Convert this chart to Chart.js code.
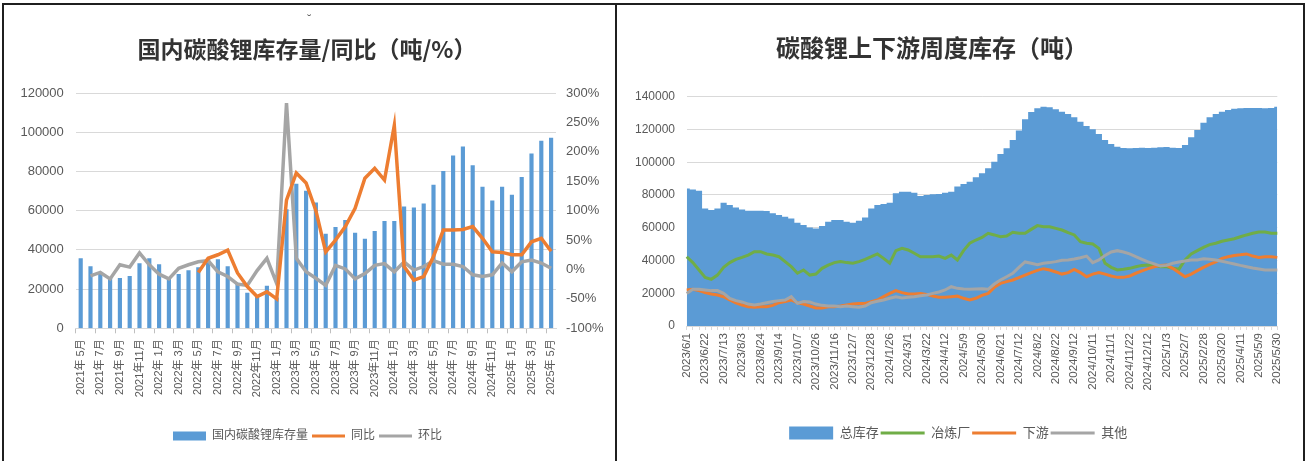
<!DOCTYPE html>
<html lang="zh">
<head>
<meta charset="utf-8">
<title>碳酸锂库存</title>
<script src="https://cdn.jsdelivr.net/npm/chart.js@4"></script>
<style>
  body { margin: 0; background: #fff; }
  #page { position: relative; width: 1307px; height: 461px; overflow: hidden; background: #fff; }
  canvas { position: absolute; top: 0; }
  .title { position: absolute; font-family: 'Noto Sans CJK SC', sans-serif; font-weight: 700;
           color: #333; white-space: nowrap; transform: translateX(-50%); line-height: 30px; }
  .rule { position: absolute; background: #1f1f1f; }
</style>
</head>
<body>
<div id="page">
  <canvas id="left-chart" width="615" height="461" style="left:0"></canvas>
  <canvas id="right-chart" width="688" height="461" style="left:617px"></canvas>

  <div class="title" style="left:307px;top:33px;font-size:23px;">国内碳酸锂库存量/同比（吨/%）</div>
  <div class="title" style="left:932px;top:32px;font-size:24px;">碳酸锂上下游周度库存（吨）</div>
  <div style="position:absolute;left:307px;top:11px;font-size:13px;color:#666;">˘</div>

  <div class="rule" style="left:2px;top:3px;width:1303px;height:2px;"></div>
  <div class="rule" style="left:2px;top:3px;width:2px;height:458px;"></div>
  <div class="rule" style="left:615px;top:3px;width:2px;height:458px;"></div>
  <div class="rule" style="left:1303px;top:3px;width:2px;height:458px;"></div>
</div>

<script>
// ---- left chart data (monthly) ----
const months = [
  "2021年 5月","2021年 6月","2021年 7月","2021年 8月","2021年 9月","2021年10月","2021年11月","2021年12月",
  "2022年 1月","2022年 2月","2022年 3月","2022年 4月","2022年 5月","2022年 6月","2022年 7月","2022年 8月",
  "2022年 9月","2022年10月","2022年11月","2022年12月","2023年 1月","2023年 2月","2023年 3月","2023年 4月",
  "2023年 5月","2023年 6月","2023年 7月","2023年 8月","2023年 9月","2023年10月","2023年11月","2023年12月",
  "2024年 1月","2024年 2月","2024年 3月","2024年 4月","2024年 5月","2024年 6月","2024年 7月","2024年 8月",
  "2024年 9月","2024年10月","2024年11月","2024年12月","2025年 1月","2025年 2月","2025年 3月","2025年 4月",
  "2025年 5月"
];
const stock = [
  35500,31500,28000,25500,25500,26500,33000,35500,32500,26000,27500,29500,31000,35500,35000,31500,
  23000,18000,16000,21500,15500,60500,73500,70000,64000,48000,51500,55000,48500,45500,49500,54500,
  54500,62000,61500,63500,73000,80000,88000,92500,83000,72000,65000,72000,68000,77000,89000,95500,
  97000
];
const yoy = [
  null,null,null,null,null,null,null,null,null,null,null,null,-5,19,25,33,
  -6,-29,-46,-38,-50,118,164,147,100,30,50,73,104,155,172,152,
  245,5,-18,-12,22,67,67,68,73,53,30,29,25,25,47,53,
  31
];
const mom = [
  null,-11,-5,-16,8,4,28,8,-8,-16,2,8,13,15,-4,-12,
  -25,-27,-2,19,-24,283,19,-4,-15,-27,7,1,-16,-7,7,10,
  -4,13,-1,5,15,9,9,5,-9,-12,-9,11,-4,13,16,11,
  2
];

// ---- right chart data (weekly) ----
const weekTicks = [
  "2023/6/1","2023/6/22","2023/7/13","2023/8/3","2023/8/24","2023/9/14","2023/10/7","2023/10/26",
  "2023/11/16","2023/12/7","2023/12/28","2024/1/26","2024/3/1","2024/3/22","2024/4/12","2024/5/9",
  "2024/5/30","2024/6/21","2024/7/12","2024/8/2","2024/8/22","2024/9/12","2024/10/11","2024/11/1",
  "2024/11/22","2024/12/12","2025/1/3","2025/2/7","2025/2/28","2025/3/20","2025/4/11","2025/5/9",
  "2025/5/30"
];
const totalStock = [
  84000,83400,82600,71800,70800,71800,75300,73900,72400,71200,70400,70400,70400,70200,68800,67800,
  66700,65700,63100,61700,60200,59600,61000,63700,64700,64700,63700,63100,64300,66300,71800,73900,
  74500,75300,81000,82000,82000,81400,79400,80000,80400,80600,81400,82000,85100,86700,88100,90800,
  93200,96300,100300,105000,108500,113600,119300,126200,130600,132900,133900,133500,132300,130800,129400,127400,
  124700,122100,120100,117200,113600,111100,109500,108700,108500,108700,108900,108700,108900,109100,109300,108900,
  108700,110500,115200,119700,124100,127400,129400,130800,131900,132700,132900,133100,133100,133100,132900,133100,
  133900
];
const smelter = [
  42300,38700,34200,29700,28500,31100,35800,38700,40700,41900,43300,45400,45400,44000,43300,42300,
  39300,36200,32200,34200,31100,31700,35200,37200,38700,39300,38700,38300,39300,40700,42300,44000,
  41300,38300,46000,47400,46400,44400,42300,42300,42300,42700,41300,43300,40300,46000,50500,52500,
  54100,56600,55600,54500,54900,57200,56600,56600,59000,61300,60600,60600,59600,58600,57000,55600,
  51500,50500,50100,47400,38300,35800,34200,34600,35200,36200,37000,37200,37000,36200,36200,35200,
  34600,40300,44000,46000,48000,49700,50500,51700,52500,53300,54500,55600,56600,57400,57400,56600,
  56600
];
const downstream = [
  22000,22400,21600,20400,19500,18900,17900,15900,14200,12800,11800,11400,11800,11800,12600,14200,
  14900,15900,14200,13400,12200,11000,11000,11800,11800,12200,12800,13400,13800,13800,14900,15900,
  17900,19900,21600,20400,19500,19500,19900,19300,18300,17500,17500,17900,18300,16900,15900,16900,
  18700,19900,23600,26000,27100,28100,29500,31100,32600,34000,35000,34200,33000,31700,32600,34600,
  32600,30100,31700,32600,31700,30500,29700,29700,30500,32200,33600,35000,36200,37000,37200,35200,
  32600,30100,31700,33800,35800,37600,39100,41300,42300,43100,43500,44000,42700,41900,42300,42300,
  41900
];
const others = [
  19900,22400,22400,22000,21600,21600,19900,16900,15500,14700,13400,12800,13400,14200,14900,15500,
  15900,17900,13800,14900,14700,13400,12600,12200,12200,11800,12200,11800,11400,12200,14200,15100,
  15900,16900,17900,17100,17500,17900,18500,18900,19900,20800,22000,24000,23000,22600,22400,22600,
  22800,22400,25600,28100,30100,32200,35800,39100,38300,37400,38300,38700,39300,40100,40300,40900,
  41700,42700,38700,40300,43100,45200,46000,45200,44000,42300,40700,39100,37900,36600,37000,38300,
  39100,39700,40300,40300,41100,40700,40300,39500,38700,37900,37000,36200,35400,34800,34200,34200,
  34200
];
// one category per week, only every third week carries a printed date
const weeks = totalStock.map((_, i) => (i % 3 === 0 ? weekTicks[i / 3] : ""));

const BLUE = "#5B9BD5", ORANGE = "#ED7D31", GRAY = "#A5A5A5", GREEN = "#70AD47";
const GRID = "#D9D9D9", TEXT = "#595959";

Chart.defaults.font.family = "'Liberation Sans', 'Noto Sans CJK SC', sans-serif";
Chart.defaults.color = TEXT;
Chart.defaults.animation = false;

// legend box height is fixed so the plot area lands where the original has it;
// dx nudges the legend sideways to its spot under the plot
function legendBox(h, dx) {
  return {
    id: "legendBox",
    beforeInit(chart) {
      const fit = chart.legend.fit;
      chart.legend.fit = function () { fit.call(this); this.height = h; };
    },
    afterLayout(chart) {
      chart.legend.left += dx;
      chart.legend.right += dx;
    }
  };
}

function legendItems(chart) {
  return chart.data.datasets.map((ds, i) => ({
    text: ds.label,
    fillStyle: ds.backgroundColor,
    strokeStyle: ds.legendStroke,
    lineWidth: ds.legendLine,
    pointStyle: ds.legendStyle,
    fontColor: TEXT,
    hidden: false,
    datasetIndex: i
  }));
}

// ---- left: 国内碳酸锂库存量/同比 ----
new Chart(document.getElementById("left-chart"), {
  data: {
    labels: months,
    datasets: [
      { type: "bar", label: "国内碳酸锂库存量", data: stock, backgroundColor: BLUE,
        barThickness: 3.5, yAxisID: "y", order: 3,
        legendStyle: "rect", legendStroke: BLUE, legendLine: 0 },
      { type: "line", label: "同比", data: yoy, borderColor: ORANGE, backgroundColor: ORANGE,
        borderWidth: 3.5, pointRadius: 0, tension: 0, yAxisID: "y1", order: 1,
        legendStyle: "line", legendStroke: ORANGE, legendLine: 3 },
      { type: "line", label: "环比", data: mom, borderColor: GRAY, backgroundColor: GRAY,
        borderWidth: 3.5, pointRadius: 0, tension: 0, yAxisID: "y1", order: 2,
        legendStyle: "line", legendStroke: GRAY, legendLine: 3 }
    ]
  },
  options: {
    responsive: false,
    layout: { padding: { top: 93, left: 0, right: 0, bottom: 0 } },
    plugins: {
      title: { display: false },
      tooltip: { enabled: false },
      legend: {
        position: "bottom",
        labels: {
          usePointStyle: true, pointStyleWidth: 33, boxHeight: 9, padding: 4,
          font: { size: 12 }, generateLabels: legendItems
        }
      }
    },
    scales: {
      x: {
        offset: true,
        afterFit: s => { s.height = 97.7; },
        grid: {
          offset: true, drawOnChartArea: false, tickLength: 5,
          color: c => (c.index % 2 === 0 ? "#BFBFBF" : "rgba(0,0,0,0)")
        },
        border: { color: GRID },
        ticks: {
          autoSkip: false, minRotation: 90, maxRotation: 90, padding: 6,
          font: { size: 11 },
          callback: (v, i) => (i % 2 === 0 ? months[i] : "")
        }
      },
      y: {
        position: "left", min: 0, max: 120000,
        afterFit: s => { s.width = 75.8; },
        grid: { color: GRID, drawTicks: false },
        border: { display: false },
        ticks: { stepSize: 20000, padding: 12, font: { size: 13 }, callback: v => String(v) }
      },
      y1: {
        position: "right", min: -100, max: 300,
        afterFit: s => { s.width = 59; },
        grid: { drawOnChartArea: false, drawTicks: false },
        border: { display: false },
        ticks: { stepSize: 50, padding: 10, font: { size: 13 }, callback: v => v + "%" }
      }
    }
  },
  plugins: [legendBox(35, 0)]
});

// ---- right: 碳酸锂上下游周度库存 ----
new Chart(document.getElementById("right-chart"), {
  type: "line",
  data: {
    labels: weeks,
    datasets: [
      { label: "总库存", data: totalStock, fill: "origin", stepped: "middle",
        backgroundColor: BLUE, borderColor: BLUE, borderWidth: 0, pointRadius: 0, order: 4,
        legendStyle: "rect", legendStroke: BLUE, legendLine: 0 },
      { label: "冶炼厂", data: smelter, borderColor: GREEN, backgroundColor: GREEN,
        borderWidth: 3, pointRadius: 0, tension: 0, order: 3,
        legendStyle: "line", legendStroke: GREEN, legendLine: 3 },
      { label: "下游", data: downstream, borderColor: ORANGE, backgroundColor: ORANGE,
        borderWidth: 3, pointRadius: 0, tension: 0, order: 2,
        legendStyle: "line", legendStroke: ORANGE, legendLine: 3 },
      { label: "其他", data: others, borderColor: GRAY, backgroundColor: GRAY,
        borderWidth: 3, pointRadius: 0, tension: 0, order: 1,
        legendStyle: "line", legendStroke: GRAY, legendLine: 3 }
    ]
  },
  options: {
    responsive: false,
    layout: { padding: { top: 96.7, left: 0, right: 27.7, bottom: 0 } },
    plugins: {
      title: { display: false },
      tooltip: { enabled: false },
      legend: {
        position: "bottom",
        labels: {
          usePointStyle: true, pointStyleWidth: 44, boxHeight: 13, padding: 2,
          font: { size: 13 }, generateLabels: legendItems
        }
      }
    },
    scales: {
      x: {
        offset: false,
        afterFit: s => { s.height = 98.5; },
        grid: { drawOnChartArea: false, tickLength: 4, color: GRID },
        border: { color: GRID },
        ticks: {
          autoSkip: false, minRotation: 90, maxRotation: 90, padding: 3,
          font: { size: 11.5 }
        }
      },
      y: {
        min: 0, max: 140000,
        afterFit: s => { s.width = 69.7; },
        grid: { color: GRID, drawTicks: false },
        border: { display: false },
        ticks: { stepSize: 20000, padding: 11.7, font: { size: 12 }, callback: v => String(v) }
      }
    }
  },
  plugins: [legendBox(36.5, 11)]
});
</script>
</body>
</html>
